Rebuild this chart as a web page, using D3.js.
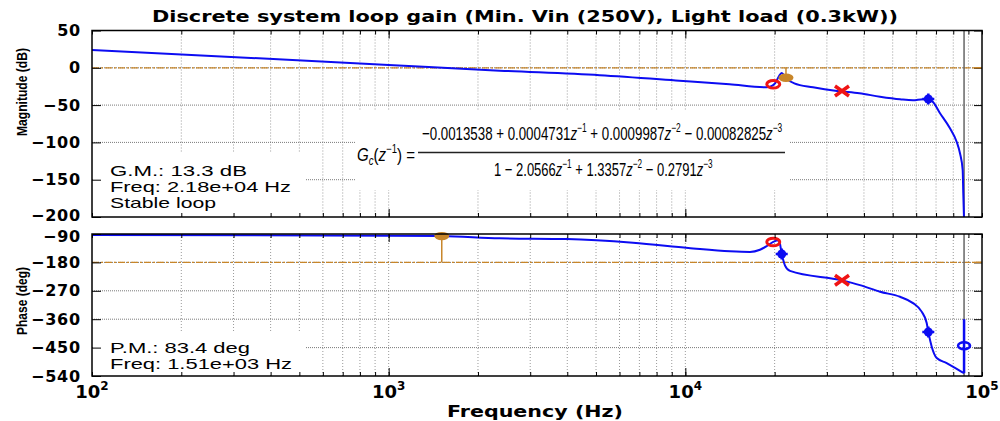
<!DOCTYPE html>
<html>
<head>
<meta charset="utf-8">
<script src="https://cdn.jsdelivr.net/npm/d3@7"></script>
<style>
  body { margin: 0; background: #fff; }
  svg { display: block; }
</style>
</head>
<body>
<script>
// loop gain magnitude
var magFreq = [100, 1000, 2366, 5140, 9550, 14090, 18800, 19290, 20060, 20700, 21110, 21520, 22190, 23290, 26940, 32460, 38610, 45320, 52920, 58540, 63250, 67690, 72190, 77990, 82150, 84290, 86070, 86470, 86940];
var magDb = [23.9, 3.9, -3.8, -10, -17.3, -22.1, -26.1, -25.5, -21, -11, -7, -10, -16, -20.8, -26.1, -31.1, -34.2, -38.7, -42.2, -43.6, -42.2, -44.5, -61, -81.1, -99.1, -114.6, -137, -167.8, -200];

// loop gain phase
var phaseFreq = [100, 1000, 1510, 2366, 3992, 6661, 10230, 14140, 16520, 17850, 18850, 19790, 20690, 21130, 21680, 22530, 33730, 38790, 45320, 52920, 58540, 62610, 65100, 65920, 67690, 70370, 76030, 81100, 87000];
var phaseDeg = [-93, -95.4, -96.6, -103.6, -106, -117.5, -134, -145, -147, -140, -128, -115, -110, -153, -190, -207, -237, -252, -273, -289, -309, -336, -372, -400, -447, -483, -499, -514, -531];

var nyquistFreq = 87000;
var nyquistPhase = [-360, -531];

// markers
var magMarkKind = ["ring", "gm", "cross", "pole"];
var magMarkFreq = [19790, 21840, 33730, 65920];
var magMarkDb = [-22.1, -13.3, -31.1, -41.8];

var phMarkKind = ["gm", "ring", "pole", "cross", "pole", "openPole"];
var phMarkFreq = [1510, 19790, 21130, 33730, 65920, 87000];
var phMarkDeg = [-96.6, -115.4, -153.4, -236.7, -400.6, -444];

var magTicks = [50, 0, -50, -100, -150, -200];
var phaseTicks = [-90, -180, -270, -360, -450, -540];
var decades = [2, 3, 4, 5];

var titleText = "Discrete system loop gain (Min. Vin (250V), Light load (0.3kW))";
var gmText = ["G.M.: 13.3 dB", "Freq: 2.18e+04 Hz", "Stable loop"];
var pmText = ["P.M.: 83.4 deg", "Freq: 1.51e+03 Hz"];

// controller transfer function
var numSign = ["", "+", "+", "\u2212"];
var numCoef = ["\u22120.0013538", "0.0004731", "0.0009987", "0.00082825"];
var denSign = ["", "\u2212", "+", "\u2212"];
var denCoef = ["1", "2.0566", "1.3357", "0.2791"];

var blue = "#0c0cf2", red = "#f01414", brown = "#c8862a";
var boldFont = "'DejaVu Sans', sans-serif";
var plainFont = "'Liberation Sans', Arial, sans-serif";
var mathFont = "'Liberation Sans Narrow', 'Liberation Sans', sans-serif";

var svg = d3.select("body").append("svg")
    .attr("width", 1000)
    .attr("height", 421);

var x = d3.scaleLog().domain([100, 100000]).range([92, 982]);
var yMag = d3.scaleLinear().domain([-200, 50]).range([217, 30.5]);
var yPh = d3.scaleLinear().domain([-540, -90]).range([376, 234]);

var x0 = x.range()[0], x1 = x.range()[1];

function drawGrid(y, tickVals) {
    var yTop = y.range()[1], yBot = y.range()[0];
    var g = svg.append("g");
    g.selectAll(".vg")
        .data(x.ticks().filter(function(d){ return d > 100 && d < 100000; }))
        .enter().append("line")
        .attr("x1", function(d){ return x(d); })
        .attr("x2", function(d){ return x(d); })
        .attr("y1", yTop).attr("y2", yBot)
        .attr("stroke", "#9a9a9a")
        .attr("stroke-dasharray", "1,2");
    g.selectAll(".hg")
        .data(tickVals.slice(1, tickVals.length - 1))
        .enter().append("line")
        .attr("x1", x0).attr("x2", x1)
        .attr("y1", function(d){ return y(d); })
        .attr("y2", function(d){ return y(d); })
        .attr("stroke", "#7a7a7a")
        .attr("stroke-dasharray", "1,1");
}

// nudge: [value, pixel shift] to keep the two panels' end labels apart
function drawFrame(y, tickVals, refVal, nudge) {
    var yTop = y.range()[1], yBot = y.range()[0];
    var g = svg.append("g");

    var left = g.append("g")
        .attr("transform", "translate(" + x0 + ",0)")
        .call(d3.axisLeft(y).tickValues(tickVals).tickSize(-9).tickPadding(11));
    left.select(".domain").remove();
    left.selectAll("text")
        .attr("font-family", boldFont)
        .attr("font-weight", "bold")
        .attr("font-size", 16)
        .attr("letter-spacing", 0.8)
        .attr("fill", "#000");
    left.selectAll("text")
        .filter(function(d){ return d === nudge[0]; })
        .attr("y", nudge[1]);

    var right = g.append("g")
        .attr("transform", "translate(" + x1 + ",0)")
        .call(d3.axisRight(y).tickValues(tickVals).tickSize(-8).tickFormat(""));
    right.select(".domain").remove();

    [[yTop, d3.axisTop], [yBot, d3.axisBottom]].forEach(function(s) {
        var minor = g.append("g").attr("transform", "translate(0," + s[0] + ")")
            .call(s[1](x).tickValues(x.ticks()).tickSize(-4).tickFormat(""));
        minor.select(".domain").remove();
        var major = g.append("g").attr("transform", "translate(0," + s[0] + ")")
            .call(s[1](x).tickValues([1000, 10000]).tickSize(-8).tickFormat(""));
        major.select(".domain").remove();
    });

    // reference level tick on the right in brown
    g.append("line")
        .attr("x1", x1 - 8).attr("x2", x1)
        .attr("y1", y(refVal)).attr("y2", y(refVal))
        .attr("stroke", brown).attr("stroke-width", 1.5);

    g.append("rect")
        .attr("x", x0).attr("y", yTop)
        .attr("width", x1 - x0).attr("height", yBot - yTop)
        .attr("fill", "none")
        .attr("stroke", "#000")
        .attr("stroke-width", 1.5);
}

function drawRef(y, refVal) {
    svg.append("line")
        .attr("x1", x0).attr("x2", x1)
        .attr("y1", y(refVal)).attr("y2", y(refVal))
        .attr("stroke", brown)
        .attr("stroke-width", 1.3)
        .attr("stroke-dasharray", "7,2,2,2");
    svg.append("line")
        .attr("x1", x(nyquistFreq)).attr("x2", x(nyquistFreq))
        .attr("y1", y.range()[1]).attr("y2", y.range()[0])
        .attr("stroke", "#666")
        .attr("stroke-width", 1.5);
}

function drawCurve(y, fs, vs, id) {
    svg.append("clipPath").attr("id", id).append("rect")
        .attr("x", x0).attr("y", y.range()[1])
        .attr("width", x1 - x0).attr("height", y.range()[0] - y.range()[1]);
    var line = d3.line()
        .x(function(d){ return x(d[0]); })
        .y(function(d){ return y(d[1]); })
        .curve(d3.curveMonotoneX);
    svg.append("path")
        .datum(d3.zip(fs, vs))
        .attr("clip-path", "url(#" + id + ")")
        .attr("d", line)
        .attr("fill", "none")
        .attr("stroke", blue)
        .attr("stroke-width", 2);
}

function drawMarkers(y, kinds, fs, vs, refVal) {
    kinds.forEach(function(k, i) {
        var cx = x(fs[i]), cy = y(vs[i]);
        var g = svg.append("g").attr("transform", "translate(" + cx + "," + cy + ")");
        if (k === "ring") {
            g.append("ellipse").attr("rx", 6.5).attr("ry", 3.8)
                .attr("fill", "none").attr("stroke", red).attr("stroke-width", 3);
        } else if (k === "cross") {
            g.append("path").attr("d", "M-7,-5L7,5M-7,5L7,-5")
                .attr("stroke", red).attr("stroke-width", 3.5);
        } else if (k === "gm") {
            g.append("line").attr("x1", 0).attr("x2", 0)
                .attr("y1", 0).attr("y2", y(refVal) - cy)
                .attr("stroke", brown).attr("stroke-width", 1.5);
            g.append("ellipse").attr("rx", 7.5).attr("ry", 4.2).attr("fill", brown);
        } else if (k === "pole") {
            g.append("ellipse").attr("rx", 4.5).attr("ry", 4.5).attr("fill", blue);
            g.append("path").attr("d", "M-6,0L6,0M0,-5.5L0,5.5")
                .attr("stroke", blue).attr("stroke-width", 2.5);
        } else if (k === "openPole") {
            g.append("ellipse").attr("rx", 6).attr("ry", 3.5)
                .attr("fill", "none").attr("stroke", blue).attr("stroke-width", 2.5);
        }
    });
}

function textBox(bx, by, bw, bh, lines, baseY, step, lengths) {
    svg.append("rect").attr("x", bx).attr("y", by).attr("width", bw).attr("height", bh).attr("fill", "#fff");
    lines.forEach(function(t, i) {
        svg.append("text")
            .attr("x", 110).attr("y", baseY + i * step)
            .attr("font-family", plainFont)
            .attr("font-size", 15)
            .attr("textLength", lengths[i])
            .attr("lengthAdjust", "spacingAndGlyphs")
            .text(t);
    });
}

// stretch a group of text horizontally to a given width
function fitWidth(g, xp, yp, len) {
    var w = g.node().getBBox().width;
    g.attr("transform", "translate(" + xp + "," + yp + ") scale(" + (len / w) + ",1)");
}

// ---------- magnitude panel ----------
drawGrid(yMag, magTicks);
svg.append("rect").attr("x", 355).attr("y", 110).attr("width", 435).attr("height", 80).attr("fill", "#fff");
textBox(93, 152, 212, 64, gmText, 176, 16, [137, 181, 106]);
drawRef(yMag, 0);
drawCurve(yMag, magFreq, magDb, "clipMag");
drawMarkers(yMag, magMarkKind, magMarkFreq, magMarkDb, 0);
drawFrame(yMag, magTicks, 0, [-200, -2]);

// ---------- phase panel ----------
drawGrid(yPh, phaseTicks);
textBox(93, 333, 212, 42, pmText, 353, 15.5, [140, 182]);
drawRef(yPh, -180);
drawCurve(yPh, phaseFreq, phaseDeg, "clipPh");
svg.append("line")
    .attr("x1", x(nyquistFreq)).attr("x2", x(nyquistFreq))
    .attr("y1", yPh(nyquistPhase[0])).attr("y2", yPh(nyquistPhase[1]))
    .attr("stroke", blue).attr("stroke-width", 2.5);
drawMarkers(yPh, phMarkKind, phMarkFreq, phMarkDeg, -180);
drawFrame(yPh, phaseTicks, -180, [-90, 2.5]);

// x tick labels 10^n
decades.forEach(function(d) {
    var t = svg.append("text")
        .attr("x", x(Math.pow(10, d)))
        .attr("y", 398)
        .attr("text-anchor", "middle")
        .attr("font-family", boldFont)
        .attr("font-weight", "bold")
        .attr("font-size", 18);
    t.append("tspan").text("10");
    t.append("tspan").attr("dy", -8).attr("font-size", 12).text(d);
});

// titles
svg.append("text")
    .attr("x", 525).attr("y", 22)
    .attr("text-anchor", "middle")
    .attr("font-family", boldFont).attr("font-weight", "bold").attr("font-size", 16)
    .attr("textLength", 746).attr("lengthAdjust", "spacingAndGlyphs")
    .text(titleText);

svg.append("text")
    .attr("x", 535).attr("y", 417)
    .attr("text-anchor", "middle")
    .attr("font-family", boldFont).attr("font-weight", "bold").attr("font-size", 15)
    .attr("textLength", 176).attr("lengthAdjust", "spacingAndGlyphs")
    .text("Frequency (Hz)");

[["Magnitude (dB)", 92, 88], ["Phase (deg)", 301, 68]].forEach(function(a) {
    svg.append("text")
        .attr("transform", "translate(27," + a[1] + ") rotate(-90)")
        .attr("text-anchor", "middle")
        .attr("font-family", plainFont).attr("font-weight", "bold").attr("font-size", 14)
        .attr("textLength", a[2]).attr("lengthAdjust", "spacingAndGlyphs")
        .text(a[0]);
});

// ---------- formula ----------
function polyText(xp, yp, len, signs, coefs) {
    var g = svg.append("g");
    var t = g.append("text")
        .attr("x", 0).attr("y", 0)
        .attr("font-family", mathFont).attr("font-size", 19);
    var shift = 0;
    coefs.forEach(function(c, i) {
        var s = i === 0 ? c : " " + signs[i] + " " + c;
        t.append("tspan").attr("dy", shift).text(s);
        shift = 0;
        if (i > 0) {
            t.append("tspan").attr("font-style", "italic").text("z");
            t.append("tspan").attr("dy", -8).attr("font-size", 12).text("\u2212" + i);
            shift = 8;
        }
    });
    fitWidth(g, xp, yp, len);
}

var gcG = svg.append("g");
var gc = gcG.append("text")
    .attr("x", 0).attr("y", 0)
    .attr("font-family", mathFont).attr("font-size", 19);
gc.append("tspan").attr("font-style", "italic").text("G");
gc.append("tspan").attr("dy", 4).attr("font-size", 12).attr("font-style", "italic").text("c");
gc.append("tspan").attr("dy", -4).text("(");
gc.append("tspan").attr("font-style", "italic").text("z");
gc.append("tspan").attr("dy", -8).attr("font-size", 12).text("\u22121");
gc.append("tspan").attr("dy", 8).text(") =");
fitWidth(gcG, 357, 161, 58);

polyText(422, 140, 361, numSign, numCoef);
svg.append("line")
    .attr("x1", 418).attr("x2", 785)
    .attr("y1", 152.5).attr("y2", 152.5)
    .attr("stroke", "#222").attr("stroke-width", 1.5);
polyText(494, 176, 219, denSign, denCoef);
</script>
</body>
</html>
